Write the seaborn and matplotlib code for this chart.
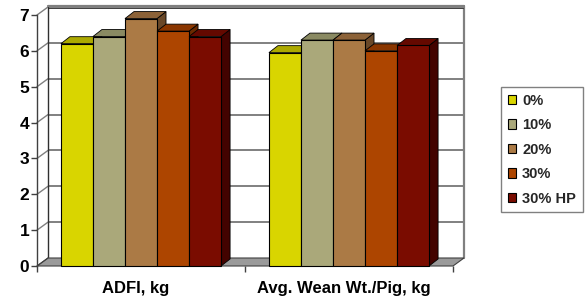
import matplotlib
matplotlib.use('Agg')
import matplotlib.pyplot as plt
import matplotlib.transforms as mtransforms
import seaborn as sns
import pandas as pd
from matplotlib.patches import Polygon, Patch

categories = ['ADFI, kg', 'Avg. Wean Wt./Pig, kg']
levels = ['0%', '10%', '20%', '30%', '30% HP']
adfi = [6.2, 6.4, 6.9, 6.55, 6.4]
wean = [5.95, 6.3, 6.3, 6.0, 6.15]
yticks = [0, 1, 2, 3, 4, 5, 6, 7]
front_colors = ['#d9d500', '#aaa87a', '#ab7a45', '#ad4500', '#7a0c00']
top_colors = ['#aca900', '#8a8a62', '#8c6238', '#8a3600', '#640900']
side_colors = ['#7c7a00', '#6a6a48', '#6a4828', '#6a2a00', '#430300']

rows = []
for c, vals in zip(categories, [adfi, wean]):
    for l, v in zip(levels, vals):
        rows.append({'category': c, 'level': l, 'value': v})
df = pd.DataFrame(rows)

sns.set_theme(style='white')
plt.rcParams['font.family'] = ['Liberation Sans', 'DejaVu Sans']
plt.rcParams['font.weight'] = 'bold'

W, H = 585, 300
fig = plt.figure(figsize=(5.85, 3.0), dpi=100)
fig.patch.set_facecolor('white')
ax_l, ax_r, ax_b, ax_t = 37, 453, 266, 15
ax = fig.add_axes([ax_l / W, 1 - ax_b / H, (ax_r - ax_l) / W, (ax_b - ax_t) / H])
ax.set_facecolor('none')

sns.barplot(data=df, x='category', y='value', hue='level', order=categories,
            hue_order=levels, palette=front_colors, width=0.77, saturation=1,
            edgecolor='black', linewidth=0.8, legend=False, ax=ax)

xmin, xmax, ymin, ymax = -0.5, 1.5, 0, 7
ax.set_xlim(xmin, xmax)
ax.set_ylim(ymin, ymax)

sx = (xmax - xmin) / (ax_r - ax_l)
sy = (ymax - ymin) / (ax_b - ax_t)
bdx, bdy = 9 * sx, 7 * sy      # bar depth
wdx, wdy = 11 * sx, 8 * sy     # wall depth

grid_c = '#808080'
floor = Polygon([(xmin, 0), (xmax, 0), (xmax + wdx, wdy), (xmin + wdx, wdy)],
                closed=True, facecolor='#9a9a9a', edgecolor='#404040', lw=0.8,
                zorder=1, clip_on=False)
ax.add_patch(floor)
for y in yticks[1:]:
    ax.plot([xmin + wdx, xmax + wdx], [y + wdy, y + wdy], color=grid_c, lw=1.4,
            zorder=0.5, clip_on=False, solid_capstyle='butt')
    ax.plot([xmin, xmin + wdx], [y, y + wdy], color=grid_c, lw=1.0,
            zorder=0.5, clip_on=False)
ax.plot([xmin + wdx, xmin + wdx], [wdy, ymax + wdy], color='#303030', lw=1.0,
        zorder=0.6, clip_on=False)
ax.plot([xmax + wdx, xmax + wdx], [wdy, ymax + wdy + 0.02], color=grid_c, lw=1.6,
        zorder=0.6, clip_on=False)
ax.plot([xmin + wdx, xmax + wdx], [ymax + wdy + 0.04, ymax + wdy + 0.04],
        color=grid_c, lw=1.6, zorder=0.6, clip_on=False)
ax.plot([xmin + wdx, xmax + wdx - 0.005], [ymax + wdy - 0.02, ymax + wdy - 0.02],
        color='#202020', lw=0.6, zorder=0.61, clip_on=False)
ax.plot([xmin, xmin + wdx], [0, wdy], color='#404040', lw=0.8, zorder=1.1, clip_on=False)

bars = sorted([p for p in ax.patches if p is not floor], key=lambda p: p.get_x())
for k, p in enumerate(bars):
    hi = k % len(levels)
    x0 = p.get_x(); w = p.get_width(); h = p.get_height()
    z = 2 + k * 0.1
    side = Polygon([(x0 + w, 0), (x0 + w + bdx, bdy), (x0 + w + bdx, h + bdy), (x0 + w, h)],
                   closed=True, facecolor=side_colors[hi], edgecolor='black', lw=0.6,
                   zorder=z, clip_on=False)
    top = Polygon([(x0, h), (x0 + w, h), (x0 + w + bdx, h + bdy), (x0 + bdx, h + bdy)],
                  closed=True, facecolor=top_colors[hi], edgecolor='black', lw=0.6,
                  zorder=z + 0.01, clip_on=False)
    ax.add_patch(side)
    ax.add_patch(top)
    p.set_zorder(z + 0.02)
    p.set_clip_on(False)

for s in ['top', 'right', 'bottom']:
    ax.spines[s].set_visible(False)
ax.spines['left'].set_color('#404040')
ax.spines['left'].set_linewidth(1.0)
ax.spines['left'].set_zorder(1.2)

ax.set_yticks(yticks)
ax.set_yticklabels([str(t) for t in yticks], fontsize=12.5, fontweight='bold')
ax.tick_params(axis='y', which='major', left=True, length=4, width=1.0,
               color='#404040', pad=1.5, labelcolor='black')
ax.set_xticks([0, 1])
ax.set_xticklabels(categories, fontsize=12, fontweight='bold')
ax.set_xticks([-0.5, 0.5, 1.5], minor=True)
ax.tick_params(axis='x', which='major', length=0, pad=10.5, labelcolor='black')
ax.tick_params(axis='x', which='minor', bottom=True, length=4, width=1.0,
               color='#404040', direction='out')
shift = mtransforms.ScaledTranslation(-5 / 100, 0, fig.dpi_scale_trans)
for lbl in ax.get_xticklabels():
    lbl.set_transform(lbl.get_transform() + shift)
ax.set_xlabel('')
ax.set_ylabel('')
ax.grid(False)

handles = [Patch(facecolor=c, edgecolor='black', lw=0.8) for c in front_colors]
leg = fig.legend(handles, levels, loc='upper left',
                 bbox_to_anchor=(501 / W, 1 - 87 / H), frameon=True, fancybox=False,
                 edgecolor='#808080', framealpha=1,
                 prop={'size': 10.5, 'weight': 'bold'}, handlelength=0.6,
                 handleheight=0.6, handletextpad=0.4, labelspacing=0.72,
                 borderpad=0.45, borderaxespad=0)
leg.get_frame().set_linewidth(1.0)

fig.savefig('out.png', dpi=100, facecolor='white')
